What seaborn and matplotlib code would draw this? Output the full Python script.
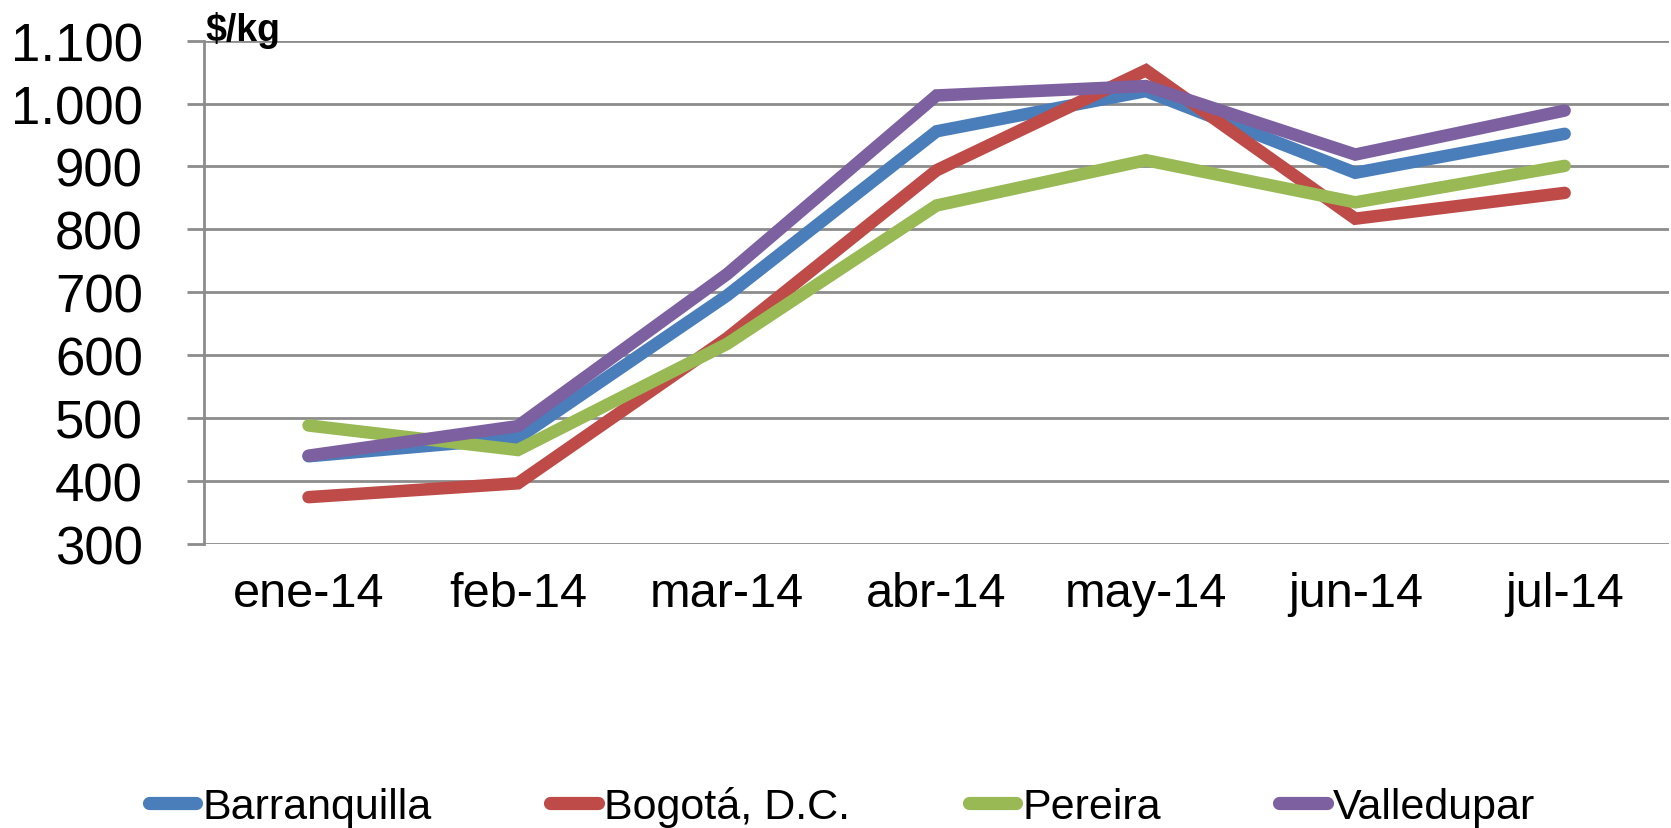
import pandas as pd
import matplotlib
matplotlib.use("Agg")
import matplotlib.pyplot as plt
from matplotlib.lines import Line2D
import seaborn as sns

# ---------------------------------------------------------------------
# Data ($/kg, ene-14 .. jul-14)
# ---------------------------------------------------------------------
months = ["ene-14", "feb-14", "mar-14", "abr-14", "may-14", "jun-14", "jul-14"]
cities = ["Barranquilla", "Bogotá, D.C.", "Pereira", "Valledupar"]
barranquilla = [439, 468, 695, 956, 1020, 890, 952]
bogota = [374, 396, 627, 894, 1053, 817, 858]
pereira = [488, 449, 618, 838, 910, 843, 901]
valledupar = [440, 487, 729, 1013, 1028, 919, 989]
y_ticks = [300, 400, 500, 600, 700, 800, 900, 1000, 1100]
y_tick_labels = ["300", "400", "500", "600", "700", "800", "900", "1.000", "1.100"]
colors = ["#4A7EBB", "#BE4B48", "#98B954", "#7D60A0"]

series = [barranquilla, bogota, pereira, valledupar]
df = pd.concat(
    [pd.DataFrame({"mes": months, "precio": vals, "ciudad": city})
     for city, vals in zip(cities, series)],
    ignore_index=True,
)

sns.set_theme(style="white")
plt.rcParams["font.family"] = ["Liberation Sans", "DejaVu Sans"]
plt.rcParams["text.color"] = "black"

fig = plt.figure(figsize=(16.71, 8.29), dpi=100)
ax = fig.add_axes([0.122, 0.343, 0.877, 0.6066])

sns.lineplot(data=df, x="mes", y="precio", hue="ciudad", hue_order=cities,
             palette=colors, sort=False, ax=ax, legend=False)
# thick Excel-style lines
for line in ax.lines:
    line.set_linewidth(9)
    line.set_solid_capstyle("round")
    line.set_solid_joinstyle("miter")

ax.set_xlim(-0.5, 6.5)
ax.set_ylim(300, 1100)
ax.set_yticks(y_ticks)
ax.set_yticklabels(y_tick_labels)
ax.set_xlabel("")
ax.set_ylabel("")

grid_col = "#8C8C8C"
ax.grid(axis="y", color=grid_col, linewidth=2)
ax.set_axisbelow(True)
for side in ["top", "right", "bottom"]:
    ax.spines[side].set_visible(False)
ax.spines["left"].set_color(grid_col)
ax.spines["left"].set_linewidth(2)

ax.tick_params(axis="y", labelsize=38, length=12, width=2, color=grid_col,
               pad=32, left=True, labelcolor="black")
ax.tick_params(axis="x", labelsize=35, length=0, pad=20, labelcolor="black")

fig.text(0.123, 0.951, "$/kg", fontsize=27, fontweight="bold", ha="left",
         va="baseline", color="black")

handles = [Line2D([0], [0], color=c, linewidth=9.5, solid_capstyle="round")
           for c in colors]
leg = fig.legend(handles, cities, loc="center", bbox_to_anchor=(0.504, 0.026),
                 ncol=4, frameon=False, fontsize=31, handlelength=1.1,
                 handletextpad=0.15, columnspacing=2.75, borderpad=0,
                 borderaxespad=0)
for t in leg.get_texts():
    t.set_color("black")

fig.savefig("out.png", dpi=100)
